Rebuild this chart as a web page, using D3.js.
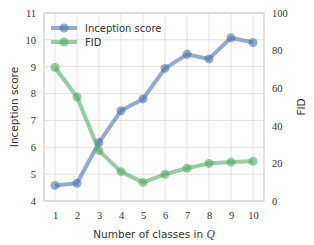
<!DOCTYPE html>
<html><head><meta charset="utf-8">
<script src="https://cdn.jsdelivr.net/npm/d3@7"></script>
<style>body{margin:0;background:#fff}</style>
</head><body>
<script>
const classes = [1,2,3,4,5,6,7,8,9,10];
const inceptionScore = [4.58,4.66,6.18,7.36,7.8,8.94,9.46,9.29,10.08,9.9];
const fid = [71,55.3,26.8,15.6,9.9,14.2,17.4,20,20.7,21.1];
const leftTicks = [4,5,6,7,8,9,10,11];
const rightTicks = [0,20,40,60,80,100];
const seriesNames = ["Inception score","FID"];

const W=314,H=245;
const m={l:44,r:50,t:13,b:44};
const svg=d3.select("body").append("svg").attr("width",W).attr("height",H);
const x=d3.scaleLinear().domain([0.5,10.5]).range([m.l,W-m.r]);
const yL=d3.scaleLinear().domain([4,11]).range([H-m.b,m.t]);
const yR=d3.scaleLinear().domain([0,100]).range([H-m.b,m.t]);
const grid="#e3e3e3";
const g=svg.append("g");
g.selectAll(".vg").data(classes).join("line").attr("x1",d=>x(d)).attr("x2",d=>x(d))
 .attr("y1",m.t).attr("y2",H-m.b).attr("stroke",grid).attr("stroke-width",1);
g.selectAll(".hg").data(leftTicks).join("line").attr("y1",d=>yL(d)).attr("y2",d=>yL(d))
 .attr("x1",m.l).attr("x2",W-m.r).attr("stroke",grid).attr("stroke-width",1);
g.append("rect").attr("x",m.l).attr("y",m.t).attr("width",W-m.l-m.r).attr("height",H-m.t-m.b)
 .attr("fill","none").attr("stroke","#d0d0d0").attr("stroke-width",1.2);

const tickFont="'Liberation Serif', serif";
const labFont="'DejaVu Sans', sans-serif";
const fmt=d3.format("d");
const axL=svg.append("g").attr("transform",`translate(${m.l},0)`).call(d3.axisLeft(yL).tickValues(leftTicks).tickFormat(fmt).tickSize(0).tickPadding(8));
const axR=svg.append("g").attr("transform",`translate(${W-m.r},0)`).call(d3.axisRight(yR).tickValues(rightTicks).tickFormat(fmt).tickSize(0).tickPadding(8));
const axB=svg.append("g").attr("transform",`translate(0,${H-m.b})`).call(d3.axisBottom(x).tickValues(classes).tickFormat(fmt).tickSize(0).tickPadding(11));
[axL,axR,axB].forEach(a=>{a.select(".domain").remove();a.selectAll("text").attr("font-family",tickFont).attr("font-size",10.5).attr("fill","#333");});

const colB="#4c72b0",colG="#55a868";
function draw(vals,y,col){
  const pts=classes.map((c,i)=>[x(c),y(vals[i])]);
  svg.append("path").attr("d",d3.line()(pts)).attr("fill","none").attr("stroke",col)
    .attr("stroke-width",4).attr("stroke-opacity",0.6).attr("stroke-linejoin","round");
  svg.append("g").selectAll("circle").data(pts).join("circle").attr("cx",d=>d[0]).attr("cy",d=>d[1])
    .attr("r",4.5).attr("fill",col).attr("fill-opacity",0.6);
}
draw(inceptionScore,yL,colB);
draw(fid,yR,colG);

// legend
const leg=svg.append("g");
[[colB,28],[colG,42]].forEach(([c,yy],i)=>{
  leg.append("line").attr("x1",51).attr("x2",77).attr("y1",yy).attr("y2",yy).attr("stroke",c).attr("stroke-width",4).attr("stroke-opacity",0.6);
  leg.append("circle").attr("cx",64).attr("cy",yy).attr("r",4.5).attr("fill",c).attr("fill-opacity",0.6);
  leg.append("text").attr("x",85).attr("y",yy).attr("dy","0.35em").attr("font-family",labFont).attr("font-size",10).attr("fill","#333").text(seriesNames[i]);
});

svg.append("text").attr("transform",`translate(14,${(m.t+H-m.b)/2}) rotate(-90)`).attr("text-anchor","middle")
 .attr("dy","0.35em").attr("font-family",labFont).attr("font-size",10.5).attr("fill","#333").text("Inception score");
svg.append("text").attr("transform",`translate(301,${(m.t+H-m.b)/2}) rotate(-90)`).attr("text-anchor","middle")
 .attr("dy","0.35em").attr("font-family",labFont).attr("font-size",10.5).attr("fill","#333").text("FID");
const xl=svg.append("text").attr("x",(m.l+W-m.r)/2).attr("y",238).attr("text-anchor","middle")
 .attr("font-family",labFont).attr("font-size",10.5).attr("fill","#333");
xl.append("tspan").text("Number of classes in ");
xl.append("tspan").attr("font-family","'Liberation Serif', serif").attr("font-style","italic").attr("font-size",11.5).text("Q");
</script>
</body></html>
